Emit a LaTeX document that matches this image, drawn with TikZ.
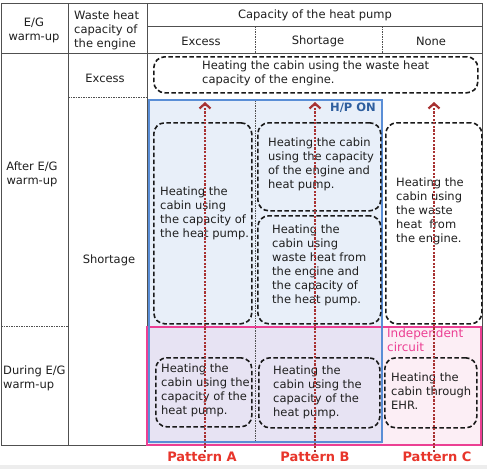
\documentclass[tikz,border=0pt]{standalone}
\usepackage{fontspec}
\setmainfont{DejaVu Sans}
\usetikzlibrary{arrows.meta}
\definecolor{gridc}{HTML}{505050}
\definecolor{bluec}{HTML}{5A8ED6}
\definecolor{bluefill}{HTML}{E8EFF9}
\definecolor{lavfill}{HTML}{E7E3F3}
\definecolor{pinkc}{HTML}{EC3F93}
\definecolor{pinkfill}{HTML}{FCEEF5}
\definecolor{arrowc}{HTML}{A83232}
\definecolor{labelc}{HTML}{E8352B}
\definecolor{hpc}{HTML}{2E5E9E}
\begin{document}
\begin{tikzpicture}[x=1pt,y=-1pt,
  font=\fontsize{11.5}{14}\selectfont,
  gline/.style={draw=gridc, line width=0.8pt},
  gdash/.style={draw=gridc, line width=0.6pt, dash pattern=on 1.5pt off 1pt},
  hbox/.style={draw=black!90, line width=1.6pt, dash pattern=on 4.5pt off 2.5pt, rounded corners=11pt, inner sep=0pt, anchor=north west},
  txt/.style={inner sep=0pt, align=left, anchor=west, text=black!88},
  ctxt/.style={inner sep=0pt, align=center, text=black!88},
  parrow/.style={draw=arrowc, line width=2.4pt, dash pattern=on 2.2pt off 1.4pt, -{Straight Barb[length=5pt,width=11pt,line width=2.2pt]}},
  plabel/.style={inner sep=0pt, text=labelc, font=\fontsize{13}{15}\selectfont\bfseries}
]
\useasboundingbox (0,0) rectangle (487,469);
\fill[white] (0,0) rectangle (487,469);
\fill[black!7] (0,465) rectangle (487,469);

% fills
\fill[bluefill] (149,100) rectangle (382,327);
\fill[lavfill] (149,327) rectangle (382,444);
\fill[pinkfill] (382,327) rectangle (481,444);

% grid
\draw[gline] (1,3) rectangle (482,445);
\draw[gline] (68,3) -- (68,445);
\draw[gline] (147,3) -- (147,445);
\draw[gline] (147,26) -- (482,26);
\draw[gline] (1,53) -- (482,53);
\draw[gdash] (255,26) -- (255,53);
\draw[gdash] (382,26) -- (382,53);
\draw[gdash] (255,100) -- (255,442);
\draw[gdash] (68,97) -- (147,97);
\draw[gdash] (1,326) -- (68,326);

% coloured frames
\draw[pinkc, line width=2pt] (147,327) rectangle (481,445);
\draw[bluec, line width=2pt] (149,100) rectangle (382,442);

% header texts
\node[ctxt] (hEG) at (34,30) {E/G\\warm-up};
\node[txt] (hWH) at (74,30) {Waste heat\\capacity of\\the engine};
\node[ctxt] (hCap) at (315,15) {Capacity of the heat pump};
\node[ctxt] (hEx) at (201,41) {Excess};
\node[ctxt] (hSh) at (318,41) {Shortage};
\node[ctxt] (hNo) at (431,41) {None};
\node[ctxt] (rEx) at (105,78) {Excess};
\node[ctxt] (rAfter) at (32,174) {After E/G\\warm-up};
\node[ctxt] (rSh) at (109,260) {Shortage};
\node[txt] (rDuring) at (3,378) {During E/G\\warm-up};

% dashed boxes
\node[hbox, minimum width=324, minimum height=36] (bTop) at (153,56) {};
\node[hbox, minimum width=98, minimum height=201] (bA1) at (153,122) {};
\node[hbox, minimum width=123, minimum height=88] (bB1) at (257,122) {};
\node[hbox, minimum width=123, minimum height=108] (bB2) at (257,215) {};
\node[hbox, minimum width=96, minimum height=201] (bC1) at (385,122) {};
\node[hbox, minimum width=96, minimum height=69] (bA2) at (155,357) {};
\node[hbox, minimum width=121, minimum height=70] (bB3) at (258,357) {};
\node[hbox, minimum width=92, minimum height=70] (bC2) at (384,357) {};

% box texts
\node[txt] (tTop) at (202,73.5) {Heating the cabin using the waste heat\\capacity of the engine.};
\node[txt] (tA1) at (160,213) {Heating the\\cabin using\\the capacity of\\the heat pump.};
\node[txt] (tB1) at (268,164) {Heating the cabin\\using the capacity\\of the engine and\\heat pump.};
\node[txt] (tB2) at (272,265.5) {Heating the\\cabin using\\waste heat from\\the engine and\\the capacity of\\the heat pump.};
\node[txt] (tC1) at (396,211.5) {Heating the\\cabin using\\the waste\\heat\ \ from\\the engine.};
\node[txt] (tA2) at (161,390.5) {Heating the\\cabin using the\\capacity of the\\heat pump.};
\node[txt] (tB3) at (273,392) {Heating the\\cabin using the\\capacity of the\\heat pump.};
\node[txt] (tC2) at (391,391) {Heating the\\cabin through\\EHR.};

% labels
\node[inner sep=0pt, text=hpc, font=\fontsize{11.5}{14}\selectfont\bfseries] (hp) at (353,108) {H/P ON};
\node[txt, text=pinkc, font=\fontsize{12}{14}\selectfont] (ind) at (387,340) {Independent\\circuit};

% arrows
\coordinate (aA0) at (205,452); \coordinate (aA1) at (205,102);
\coordinate (aB0) at (315,452); \coordinate (aB1) at (315,102);
\coordinate (aC0) at (434,452); \coordinate (aC1) at (434,102);
\draw[parrow] (aA0) -- (aA1);
\draw[parrow] (aB0) -- (aB1);
\draw[parrow] (aC0) -- (aC1);

\node[plabel] (pA) at (202,457) {Pattern A};
\node[plabel] (pB) at (315,457) {Pattern B};
\node[plabel] (pC) at (437,457) {Pattern C};
\end{tikzpicture}
\end{document}
